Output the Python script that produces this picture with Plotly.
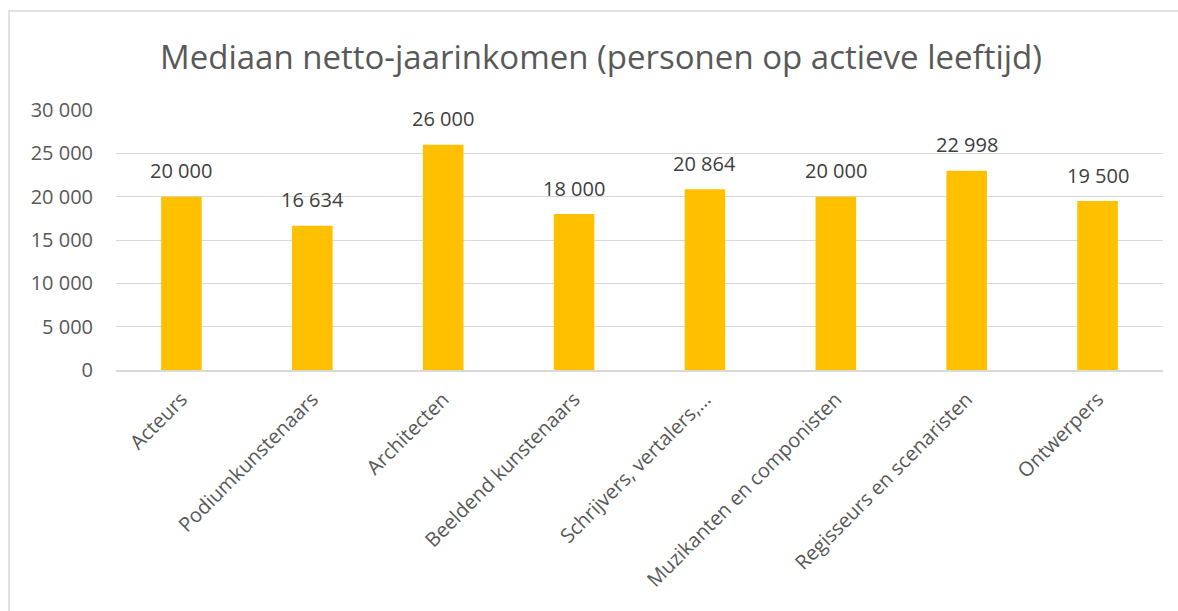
import plotly.graph_objects as go

categories = ["Acteurs", "Podiumkunstenaars", "Architecten", "Beeldend kunstenaars",
              "Schrijvers, vertalers,…", "Muzikanten en componisten",
              "Regisseurs en scenaristen", "Ontwerpers"]
values = [20000, 16634, 26000, 18000, 20864, 20000, 22998, 19500]
y_ticks = [0, 5000, 10000, 15000, 20000, 25000, 30000]
title_text = "Mediaan netto-jaarinkomen (personen op actieve leeftijd)"

W, H = 1178, 611
ML, MR, MT, MB = 116, 15, 110, 241
pw = W - ML - MR
ph = H - MT - MB

def px_x(x):
    return (x - ML) / pw

def px_y(y):
    return 1 - (y - MT) / ph

FONT = "Open Sans"

def fmt(v):
    return f"{v:,d}".replace(",", " ")

fig = go.Figure(go.Bar(
    x=categories, y=values,
    marker=dict(color="#FFC000", line=dict(width=0)),
))

for c, v in zip(categories, values):
    fig.add_annotation(x=c, y=v, text=fmt(v), showarrow=False,
                       yanchor="middle", yshift=26,
                       font=dict(family=FONT, size=20, color="#404040"))

fig.update_layout(
    width=W, height=H,
    margin=dict(l=ML, r=MR, t=MT, b=MB),
    paper_bgcolor="white", plot_bgcolor="white",
    separators=", ",
    showlegend=False,
    bargap=0.69,
    title=dict(text=title_text, xref="container", x=601 / W, xanchor="center",
               y=1 - 57 / H, yanchor="middle",
               font=dict(family=FONT, size=33, color="#595959")),
    xaxis=dict(showgrid=False, showline=True, linecolor="#d9d9d9", linewidth=1.5,
               tickangle=-45, ticks="", ticklabelstandoff=8,
               tickfont=dict(family=FONT, size=20, color="#595959")),
    yaxis=dict(range=[0, 30000], tickvals=y_ticks, tickformat=",d", showgrid=True,
               gridcolor="#d9d9d9", gridwidth=1.2, zeroline=False, showline=False,
               ticks="", ticklabelstandoff=22,
               tickfont=dict(family=FONT, size=20, color="#595959")),
    shapes=[dict(type="rect", xref="paper", yref="paper",
                 x0=px_x(9), x1=px_x(W + 5), y0=px_y(H + 5), y1=px_y(11),
                 line=dict(color="#d9d9d9", width=1.5), fillcolor="rgba(0,0,0,0)", layer="below")],
)

fig.write_html("out.html")
